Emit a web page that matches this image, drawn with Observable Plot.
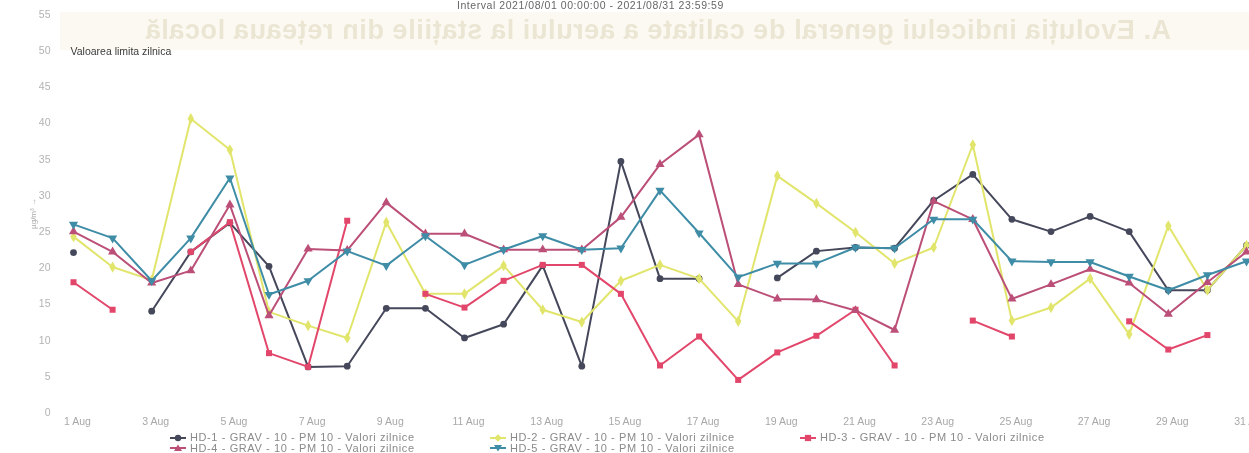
<!DOCTYPE html>
<html>
<head>
<meta charset="utf-8">
<script src="https://cdn.jsdelivr.net/npm/d3@7"></script>
<script src="https://cdn.jsdelivr.net/npm/@observablehq/plot@0.6"></script>
<style>
  html, body { margin: 0; padding: 0; background: #fff; overflow: hidden; }
  body { font-family: "Liberation Sans", Arial, sans-serif; }
  #wrap { position: relative; width: 1249px; height: 453px; overflow: hidden; background: #fff; }
  #chart { position: absolute; left: 0; top: 0; }
  #ghost { position: absolute; left: 60px; top: 12px; width: 1189px; height: 38px; overflow: hidden;
           background: rgba(238, 226, 190, 0.22); pointer-events: none; mix-blend-mode: multiply; }
  #ghost span { position: absolute; right: 78px; top: 3px; white-space: nowrap; font-size: 27px;
                font-weight: bold; color: rgba(170, 150, 90, 0.2); transform: scaleX(-1); letter-spacing: 0.6px; filter: blur(0.6px); }
  #subtitle { position: absolute; left: 457px; top: 0px; font-size: 10.5px; line-height: 11px; color: #666; white-space: nowrap; letter-spacing: 0.55px; }
  #legend { position: absolute; left: 0; top: 430px; width: 1249px; height: 23px; }
  .item { position: absolute; display: flex; align-items: center; font-size: 11px; line-height: 11px; color: #8a8a8a; white-space: nowrap; letter-spacing: 0.6px; }
  .item svg { margin-right: 4px; }
</style>
</head>
<body>
<div id="wrap">
  <div id="chart"></div>
  <div id="ghost"><span>A. Evoluția indicelui general de calitate a aerului la stațiile din rețeaua locală</span></div>
  <div id="subtitle">Interval 2021/08/01 00:00:00 - 2021/08/31 23:59:59</div>
  <div id="legend"></div>
</div>
<script>
// ---- data ----
const days = [1,2,3,4,5,6,7,8,9,10,11,12,13,14,15,16,17,18,19,20,21,22,23,24,25,26,27,28,29,30,31];
const xTicks = [1,3,5,7,9,11,13,15,17,19,21,23,25,27,29,31];
const yTicks = [0,5,10,15,20,25,30,35,40,45,50,55];
const seriesNames = [
  "HD-1 - GRAV - 10 - PM 10 - Valori zilnice",
  "HD-2 - GRAV - 10 - PM 10 - Valori zilnice",
  "HD-3 - GRAV - 10 - PM 10 - Valori zilnice",
  "HD-4 - GRAV - 10 - PM 10 - Valori zilnice",
  "HD-5 - GRAV - 10 - PM 10 - Valori zilnice"
];
const seriesColors = ["#45475a", "#e1e56b", "#e2476b", "#bb4f78", "#3e8ca6"];
const seriesSymbols = ["circle", "diamond", "square", "triangle", "triangle"];
const seriesRotate = [0, 0, 0, 0, 180];

const hd1 = [22.1,null,14.0,22.2,26.2,20.2,6.3,6.4,14.4,14.4,10.3,12.2,20.3,6.4,34.7,18.5,18.5,null,18.6,22.3,22.8,22.7,29.3,32.9,26.7,25.0,27.1,25.0,16.9,16.9,23.1];
const hd2 = [24.3,20.1,18.3,40.6,36.3,13.9,12.0,10.3,26.3,16.4,16.4,20.3,14.2,12.5,18.2,20.4,18.5,12.6,32.7,28.9,24.9,20.6,22.8,37.0,12.7,14.5,18.5,10.8,25.8,16.9,23.1];
const hd3 = [18.0,14.2,null,22.2,26.3,8.2,6.3,26.5,null,16.4,14.5,18.2,20.4,20.4,16.4,6.5,10.5,4.5,8.3,10.6,14.2,6.5,null,12.7,10.5,null,null,12.6,8.7,10.7,null];
const hd4 = [25.0,22.2,17.9,19.6,28.7,13.4,22.6,22.4,29.0,24.7,24.7,22.5,22.5,22.5,27.0,34.3,38.4,17.7,15.7,15.6,14.1,11.4,29.2,26.7,15.7,17.7,19.8,17.9,13.6,18.0,22.2];
const hd5 = [26.0,24.1,18.2,24.1,32.4,16.3,18.2,22.3,20.3,24.4,20.4,22.5,24.4,22.5,22.7,30.7,24.8,18.7,20.6,20.6,22.8,22.7,26.7,26.7,20.9,20.8,20.8,18.8,16.9,19.0,20.9];
const seriesValues = [hd1, hd2, hd3, hd4, hd5];

const limitValue = 50;
const limitLabel = "Valoarea limita zilnica";
const yLabel = "µg/m³";

// ---- build table ----
const rows = [];
seriesNames.forEach((name, s) => {
  days.forEach((d, i) => rows.push({series: name, day: d, value: seriesValues[s][i]}));
});

const marks = [];
seriesNames.forEach((name, s) => {
  const sub = rows.filter(r => r.series === name);
  marks.push(Plot.line(sub, {x: "day", y: "value", stroke: seriesColors[s], strokeWidth: 2, strokeLinejoin: "round"}));
  marks.push(Plot.dot(sub.filter(r => r.value != null), {
    x: "day", y: "value", fill: seriesColors[s], stroke: "none",
    symbol: seriesSymbols[s], r: 3.4, rotate: seriesRotate[s]
  }));
});

const chart = Plot.plot({
  width: 1249,
  height: 430,
  marginLeft: 73,
  marginRight: 3,
  marginTop: 14,
  marginBottom: 18,
  style: {fontFamily: "Liberation Sans, Arial, sans-serif", background: "transparent", overflow: "visible"},
  x: {domain: [1, 31], axis: null},
  y: {domain: [0, 55], axis: null},
  marks: [
    Plot.axisY({ticks: yTicks, tickSize: 0, tickPadding: 23, fontSize: 10.5, color: "#b3b3b3", label: null, textAnchor: "end"}),
    Plot.axisY({ticks: [], label: yLabel, labelAnchor: "center", labelOffset: 43, fontSize: 8, color: "#aaa", tickSize: 0}),
    Plot.axisX({ticks: xTicks, tickSize: 0, tickPadding: 5, fontSize: 10.5, color: "#a8a8a8", label: null,
                tickFormat: d => `${d} Aug`, dx: 4}),
    Plot.text([{label: limitLabel, day: days[0], value: limitValue}], {
      x: "day", y: "value", text: "label", textAnchor: "start", dx: -3, dy: 1,
      fontSize: 10.5, fill: "#3a3a3a"
    }),
    ...marks
  ]
});
document.getElementById("chart").appendChild(chart);

// ---- legend ----
const legendPos = [[170, 2], [490, 2], [800, 2], [170, 12.5], [490, 12.5]];
const legend = document.getElementById("legend");
seriesNames.forEach((name, s) => {
  const item = document.createElement("div");
  item.className = "item";
  item.style.left = legendPos[s][0] + "px";
  item.style.top = legendPos[s][1] + "px";
  const sym = seriesSymbols[s];
  const c = seriesColors[s];
  let shape;
  if (sym === "circle") shape = `<circle cx="8" cy="5" r="3.2" fill="${c}"/>`;
  else if (sym === "diamond") shape = `<path d="M8 1.2 L11.8 5 L8 8.8 L4.2 5 Z" fill="${c}"/>`;
  else if (sym === "square") shape = `<rect x="4.9" y="1.9" width="6.2" height="6.2" fill="${c}"/>`;
  else if (seriesRotate[s] === 180) shape = `<path d="M4 2 L12 2 L8 8.5 Z" fill="${c}"/>`;
  else shape = `<path d="M8 1.5 L12 8 L4 8 Z" fill="${c}"/>`;
  item.innerHTML = `<svg width="16" height="10"><line x1="0" y1="5" x2="16" y2="5" stroke="${c}" stroke-width="2"/>${shape}</svg><span>${name}</span>`;
  legend.appendChild(item);
});
</script>
</body>
</html>
